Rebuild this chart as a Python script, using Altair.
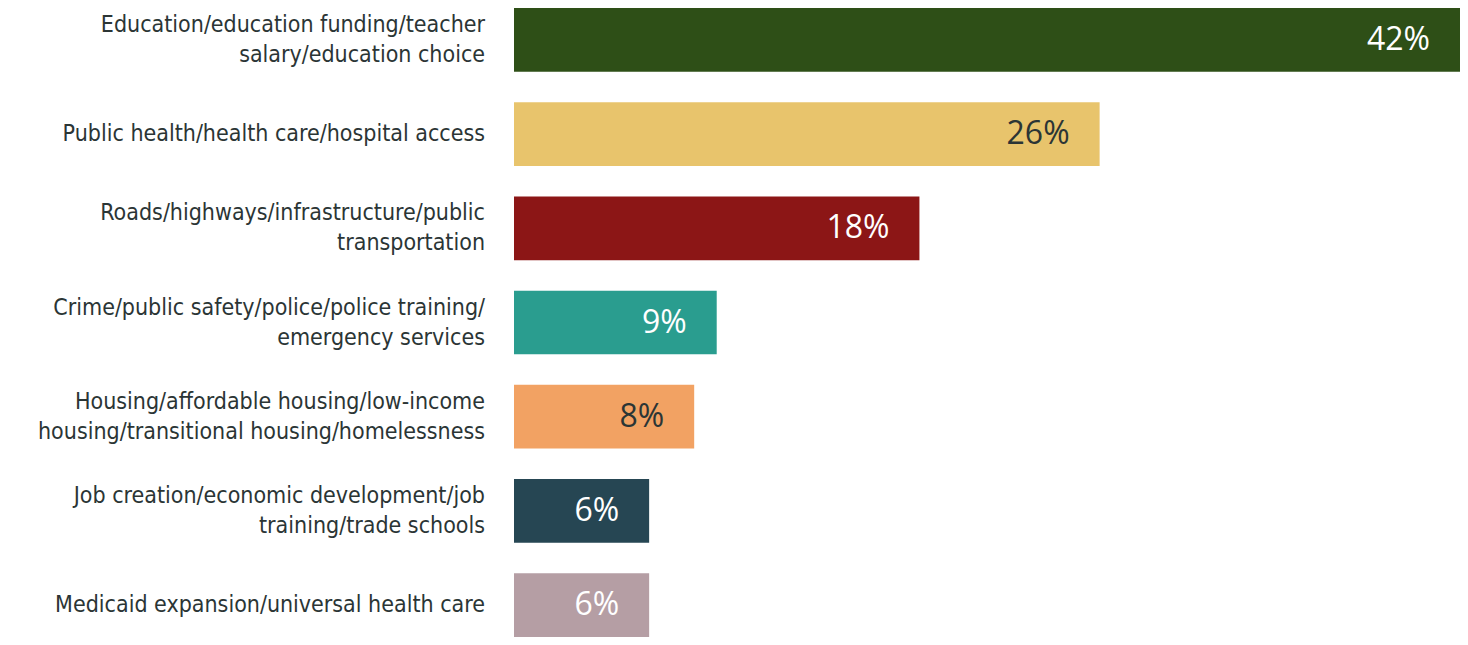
import altair as alt
import pandas as pd

categories = [
    "Education/education funding/teacher salary/education choice",
    "Public health/health care/hospital access",
    "Roads/highways/infrastructure/public transportation",
    "Crime/public safety/police/police training/emergency services",
    "Housing/affordable housing/low-income housing/transitional housing/homelessness",
    "Job creation/economic development/job training/trade schools",
    "Medicaid expansion/universal health care",
]
label_lines = [
    ["Education/education funding/teacher", "salary/education choice"],
    ["Public health/health care/hospital access"],
    ["Roads/highways/infrastructure/public", "transportation"],
    ["Crime/public safety/police/police training/", "emergency services"],
    ["Housing/affordable housing/low-income", "housing/transitional housing/homelessness"],
    ["Job creation/economic development/job", "training/trade schools"],
    ["Medicaid expansion/universal health care"],
]
values = [42, 26, 18, 9, 8, 6, 6]
bar_colors = ["#2e4f17", "#e8c46c", "#8c1616", "#2a9d8f", "#f2a263", "#264653", "#b59ea4"]
label_colors = ["#ffffff", "#2b3535", "#ffffff", "#ffffff", "#2b3535", "#ffffff", "#ffffff"]

df = pd.DataFrame({
    "cat": categories,
    "value": values,
    "bar_color": bar_colors,
    "label_color": label_colors,
    "text": [f"{v}%" for v in values],
})

rows = []
for cat, lines in zip(categories, label_lines):
    for i, ln in enumerate(lines):
        rows.append({"cat": cat, "line": ln, "idx": i, "n": len(lines)})
lines_df = pd.DataFrame(rows)

LABEL_FONT = "DejaVu Sans Condensed"
VALUE_FONT = "Open Sans"
TEXT_COLOR = "#2b3535"

y = alt.Y(
    "cat:N",
    sort=categories,
    title=None,
    scale=alt.Scale(paddingInner=0.324, paddingOuter=0.0),
    axis=None,
)
x = alt.X(
    "value:Q",
    title=None,
    scale=alt.Scale(domain=[0, 42], nice=False, zero=True),
    axis=None,
)

bars = alt.Chart(df).mark_bar(strokeWidth=0).encode(
    x=x,
    y=y,
    color=alt.Color("bar_color:N", scale=None),
)

values_text = alt.Chart(df).mark_text(
    align="right", baseline="middle", dx=-30, font=VALUE_FONT, fontSize=32
).encode(
    x=x,
    y=y,
    text="text:N",
    color=alt.Color("label_color:N", scale=None),
)

def line_layer(filter_expr, dy):
    return (
        alt.Chart(lines_df)
        .transform_filter(filter_expr)
        .mark_text(
            align="right", baseline="middle", dy=dy,
            font=LABEL_FONT, fontSize=23, color=TEXT_COLOR,
        )
        .encode(
            x=alt.value(-29),
            y=y,
            text="line:N",
        )
    )

single = line_layer("datum.n == 1", 0)
first = line_layer("datum.n == 2 && datum.idx == 0", -15)
second = line_layer("datum.n == 2 && datum.idx == 1", 15)

chart = (
    alt.layer(bars, values_text, single, first, second)
    .properties(
        width=946,
        height=629,
        autosize=alt.AutoSizeParams(type="none"),
        padding={"left": 506, "top": 0, "right": 0, "bottom": 0},
        view=alt.ViewBackground(stroke="transparent", strokeWidth=0, fill="transparent"),
    )
    .configure_view(stroke="transparent", strokeWidth=0)
    .configure_axis(domain=False, grid=False, ticks=False)
    .configure(background="#ffffff")
)

chart.save("out.html", embed_options={"renderer": "svg", "actions": False})
